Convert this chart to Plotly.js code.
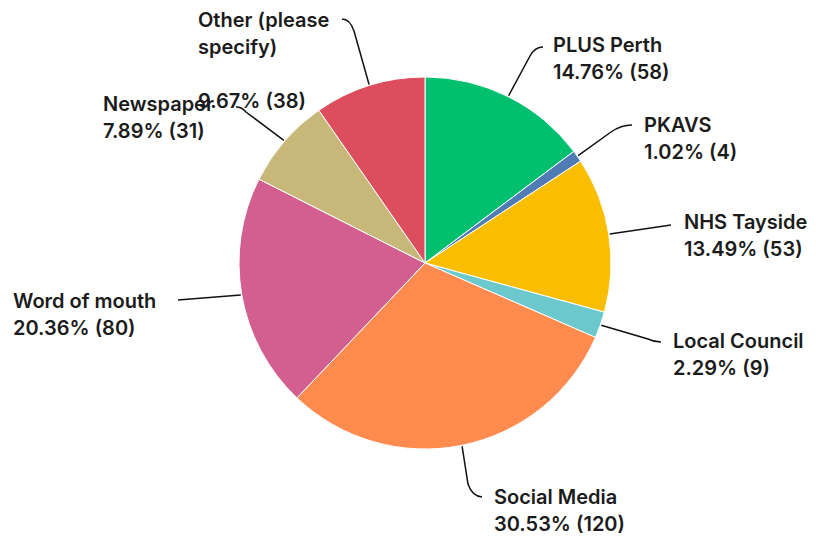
<!DOCTYPE html>
<html>
<head>
<meta charset="utf-8">
<script src="https://cdn.plot.ly/plotly-3.0.1.min.js"></script>
<style>html,body{margin:0;padding:0;background:#fff;}#chart{width:816px;height:537px;}</style>
</head>
<body>
<div id="chart"></div>
<script>
// ---- data ----
const categories = ["PLUS Perth", "PKAVS", "NHS Tayside", "Local Council", "Social Media", "Word of mouth", "Newspaper", "Other (please specify)"];
const labelLines = [["PLUS Perth"], ["PKAVS"], ["NHS Tayside"], ["Local Council"], ["Social Media"], ["Word of mouth"], ["Newspaper"], ["Other (please", "specify)", ""]];
const counts = [58, 4, 53, 9, 120, 80, 31, 38];
const colors = ["#00BF6F", "#507CB6", "#F9BE00", "#6BC8CD", "#FF8B4F", "#D25F90", "#C7B879", "#DC4E5E"];

// ---- layout helpers (pixels) ----
const W = 816, H = 537;
const CX = 425, CY = 263, R = 186;
const px = x => x / W;
const py = y => 1 - y / H;

// label block positions (left x, first-line centre y) and leader line geometry
const labelPos = [
  {x: 551, y: 45, k: [530, 56], c: [535, 47], e: [543, 47]},
  {x: 642, y: 125, k: [611, 132], c: [621, 125], e: [632, 125]},
  {x: 682, y: 222, k: [671, 225], c: [671, 225], e: [671, 225]},
  {x: 671, y: 341, k: [648, 339], c: [654, 342], e: [661, 342]},
  {x: 492, y: 497, k: [468, 484], c: [472, 496], e: [482, 497]},
  {x: 11, y: 301, k: [178, 300], c: [178, 300], e: [178, 300]},
  {x: 101, y: 104, k: [246, 112], c: [242, 107], e: [236, 107]},
  {x: 196, y: 20, k: [354, 31], c: [350, 19], e: [342, 19]}
];
const LINE_GAP = 27;

const total = counts.reduce((a, b) => a + b, 0);
const annotations = [];
const shapes = [];
let cum = 0;
counts.forEach((v, i) => {
  const frac = v / total;
  const mid = cum + frac / 2;
  cum += frac;
  const th = mid * 2 * Math.PI;
  const sx = CX + (R + 1) * Math.sin(th);
  const sy = CY - (R + 1) * Math.cos(th);
  const pos = labelPos[i];
  const lines = labelLines[i].concat([(frac * 100).toFixed(2) + "% (" + v + ")"]);
  lines.forEach((t, j) => {
    if (!t) return;
    annotations.push({
      xref: "paper", yref: "paper",
      x: px(pos.x), y: py(pos.y + j * LINE_GAP),
      xanchor: "left", yanchor: "middle", align: "left",
      text: t, showarrow: false,
      font: {family: "Inter, 'Open Sans', sans-serif", size: 20, color: "#1b1b1b", weight: 600}
    });
  });
  const path = `M ${px(sx)} ${py(sy)} L ${px(pos.k[0])} ${py(pos.k[1])} Q ${px(pos.c[0])} ${py(pos.c[1])} ${px(pos.e[0])} ${py(pos.e[1])}`;
  shapes.push({type: "path", xref: "paper", yref: "paper", path: path, line: {color: "#111", width: 1.5}});
});

const trace = {
  type: "pie",
  labels: categories,
  values: counts,
  sort: false,
  direction: "clockwise",
  rotation: 0,
  textinfo: "none",
  hoverinfo: "label+value+percent",
  marker: {colors: colors, line: {color: "#ffffff", width: 1}},
  domain: {x: [px(CX - R), px(CX + R)], y: [py(CY + R), py(CY - R)]},
  showlegend: false
};

Plotly.newPlot("chart", [trace], {
  width: W, height: H,
  margin: {l: 0, r: 0, t: 0, b: 0},
  paper_bgcolor: "#ffffff",
  showlegend: false,
  annotations: annotations,
  shapes: shapes
}, {displayModeBar: false, staticPlot: true});
</script>
</body>
</html>
